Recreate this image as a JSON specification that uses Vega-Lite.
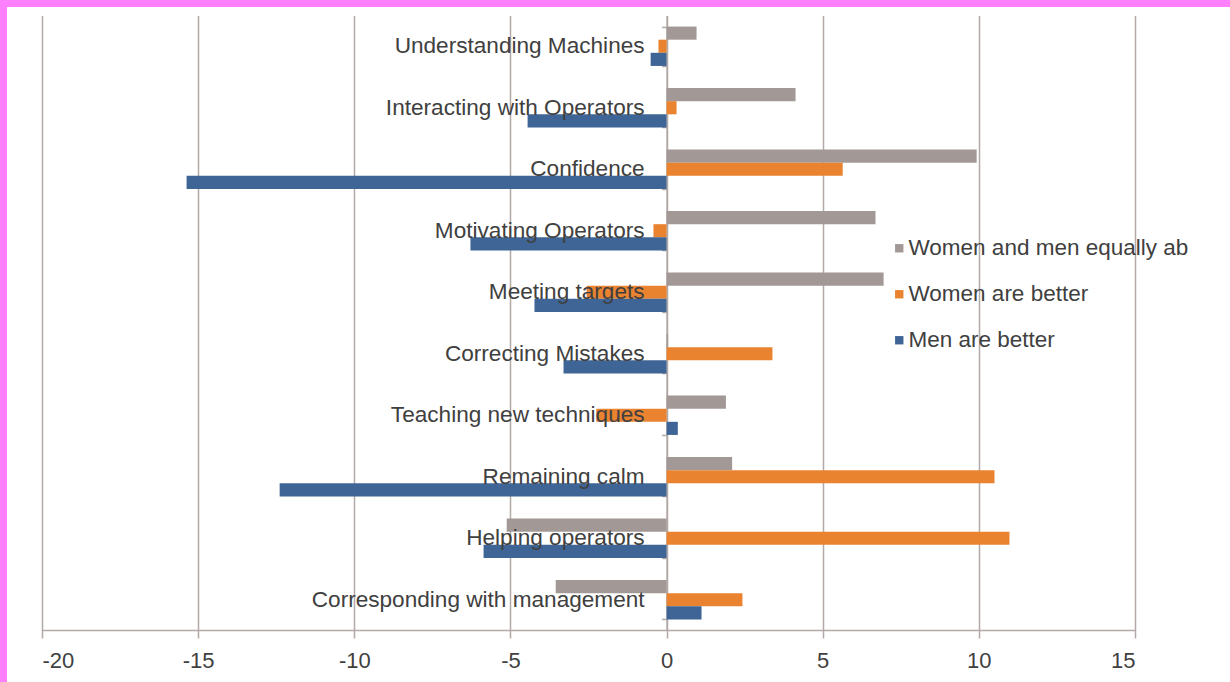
{
  "$schema": "https://vega.github.io/schema/vega-lite/v6.json",
  "width": 1230,
  "height": 682,
  "autosize": "none",
  "padding": 0,
  "background": "white",
  "config": {
    "view": {"stroke": "#ff80ff", "strokeWidth": 14, "strokeDash": [1230, 1912, 682], "fill": "white"},
    "font": "Liberation Sans"
  },
  "data": {
    "values": [
      {"category": "Understanding Machines", "series": "Women and men equally ab", "value": 0.96},
      {"category": "Understanding Machines", "series": "Women are better", "value": -0.26},
      {"category": "Understanding Machines", "series": "Men are better", "value": -0.51},
      {"category": "Interacting with Operators", "series": "Women and men equally ab", "value": 4.13},
      {"category": "Interacting with Operators", "series": "Women are better", "value": 0.32},
      {"category": "Interacting with Operators", "series": "Men are better", "value": -4.45},
      {"category": "Confidence", "series": "Women and men equally ab", "value": 9.93},
      {"category": "Confidence", "series": "Women are better", "value": 5.64},
      {"category": "Confidence", "series": "Men are better", "value": -15.37},
      {"category": "Motivating Operators", "series": "Women and men equally ab", "value": 6.69},
      {"category": "Motivating Operators", "series": "Women are better", "value": -0.42},
      {"category": "Motivating Operators", "series": "Men are better", "value": -6.28},
      {"category": "Meeting targets", "series": "Women and men equally ab", "value": 6.95},
      {"category": "Meeting targets", "series": "Women are better", "value": -2.56},
      {"category": "Meeting targets", "series": "Men are better", "value": -4.23},
      {"category": "Correcting Mistakes", "series": "Women and men equally ab", "value": 0.05},
      {"category": "Correcting Mistakes", "series": "Women are better", "value": 3.39},
      {"category": "Correcting Mistakes", "series": "Men are better", "value": -3.3},
      {"category": "Teaching new techniques", "series": "Women and men equally ab", "value": 1.9},
      {"category": "Teaching new techniques", "series": "Women are better", "value": -2.25},
      {"category": "Teaching new techniques", "series": "Men are better", "value": 0.36},
      {"category": "Remaining calm", "series": "Women and men equally ab", "value": 2.1},
      {"category": "Remaining calm", "series": "Women are better", "value": 10.5},
      {"category": "Remaining calm", "series": "Men are better", "value": -12.39},
      {"category": "Helping operators", "series": "Women and men equally ab", "value": -5.12},
      {"category": "Helping operators", "series": "Women are better", "value": 10.98},
      {"category": "Helping operators", "series": "Men are better", "value": -5.86},
      {"category": "Corresponding with management", "series": "Women and men equally ab", "value": -3.55},
      {"category": "Corresponding with management", "series": "Women are better", "value": 2.43},
      {"category": "Corresponding with management", "series": "Men are better", "value": 1.12}
    ]
  },
  "resolve": {"axis": {"x": "independent"}},
  "layer": [
    {
      "mark": {"type": "bar"},
      "encoding": {
        "y": {
          "field": "category", "type": "nominal", "sort": null,
          "scale": {"range": [15.5, 630.5], "paddingInner": 0.36, "paddingOuter": 0.18},
          "axis": {
            "orient": "left", "offset": -666.6, "labels": false, "title": null, "grid": false,
            "domain": true, "domainColor": "#b3a9a7", "domainWidth": 1.5,
            "ticks": true, "tickBand": "extent", "tickSize": 5, "tickColor": "#b3a9a7", "tickWidth": 1.5
          }
        },
        "yOffset": {
          "field": "series", "type": "nominal",
          "sort": ["Women and men equally ab", "Women are better", "Men are better"],
          "scale": {"paddingInner": 0, "paddingOuter": 0}
        },
        "x": {
          "field": "value", "type": "quantitative",
          "scale": {"domain": [-20, 15], "range": [42, 1135], "nice": false, "zero": false},
          "axis": {
            "orient": "bottom", "offset": -52, "values": [-20, -15, -10, -5, 0, 5, 10, 15],
            "title": null, "grid": false,
            "domainColor": "#b3a9a7", "domainWidth": 1.5,
            "tickColor": "#b3a9a7", "tickSize": 8, "tickWidth": 1.5,
            "labelFontSize": 22, "labelColor": "#404040", "labelPadding": 12,
            "labelExpr": "'' + datum.value"
          }
        },
        "color": {
          "field": "series", "type": "nominal",
          "scale": {
            "domain": ["Women and men equally ab", "Women are better", "Men are better"],
            "range": ["#a29896", "#e98330", "#3e6596"]
          },
          "legend": {
            "orient": "none", "legendX": 888, "legendY": 237, "title": null,
            "labelFontSize": 22.5, "labelColor": "#404040", "symbolType": "square",
            "symbolSize": 70, "symbolStrokeWidth": 0, "rowPadding": 23, "labelOffset": -2,
            "labelLimit": 400, "padding": 0
          }
        }
      }
    },
    {
      "transform": [{"filter": "datum.series === 'Women are better'"}],
      "mark": {"type": "text", "align": "right", "baseline": "middle", "dx": -22, "fontSize": 22.6, "color": "#404040"},
      "encoding": {
        "x": {
          "datum": 0, "type": "quantitative",
          "axis": {
            "orient": "top", "values": [-20, -15, -10, -5, 0, 5, 10, 15], "title": null,
            "grid": true, "gridColor": "#b3a9a7", "gridWidth": 1.5,
            "labels": false, "ticks": false, "domain": false
          }
        },
        "y": {"field": "category", "type": "nominal", "sort": null},
        "text": {"field": "category"}
      }
    }
  ]
}
